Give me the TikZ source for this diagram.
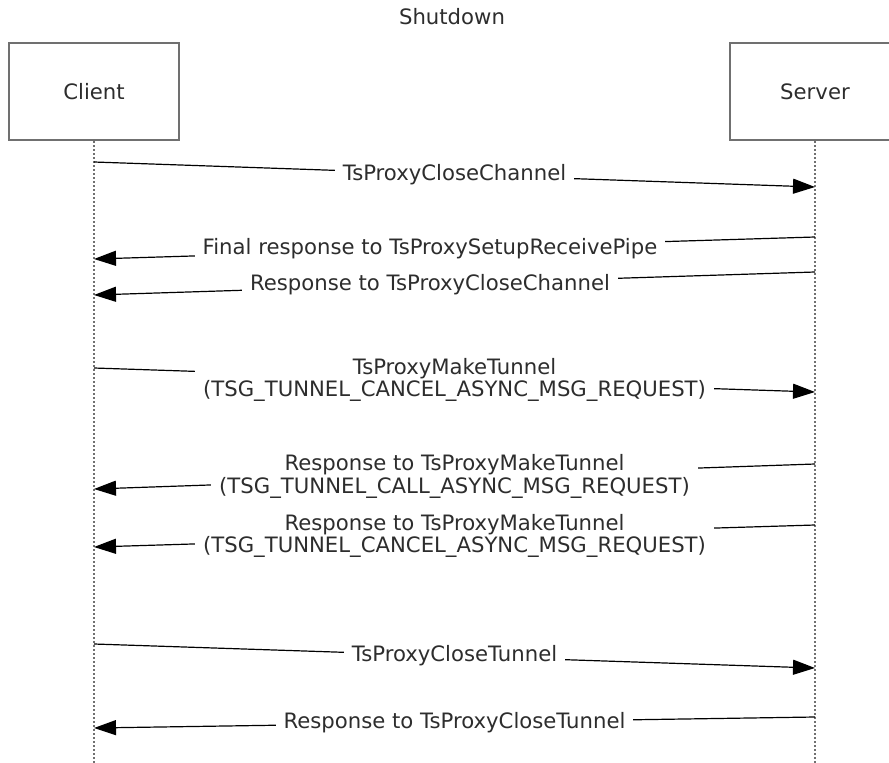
\documentclass[tikz,border=0pt]{standalone}
\usepackage{fontspec}
\setmainfont{DejaVu Sans}
\usetikzlibrary{arrows.meta}
\definecolor{boxgray}{RGB}{112,112,112}
\definecolor{textgray}{RGB}{45,45,45}

\begin{document}
\begin{tikzpicture}[x=1pt,y=-1pt,
  lifebox/.style={draw=boxgray,line width=2pt,minimum width=170pt,minimum height=97pt,inner sep=0pt,text=textgray},
  lifeline/.style={draw=boxgray,line width=2pt,dotted},
  msg/.style={line width=1.2pt,-{Triangle[length=22pt,width=15pt]}},
  lbl/.style={fill=white,inner xsep=8pt,inner ysep=1pt,align=center,text=textgray}]
\useasboundingbox (0,0) rectangle (889,763);
\fontsize{21.2}{22.5}\selectfont

\node[text=textgray] (title) at (452,17) {Shutdown};

\node[lifebox] (client) at (94,91.5) {Client};
\node[lifebox] (server) at (815,91.5) {Server};
\coordinate (clientend) at (94,763);
\coordinate (serverend) at (815,763);
\draw[lifeline] (client) -- (clientend);
\draw[lifeline] (server) -- (serverend);

\coordinate (c1) at (94,162);
\coordinate (s1) at (815,187);
\draw[msg] (c1) -- node[lbl] (m1) {TsProxyCloseChannel} (s1);

\coordinate (s2) at (815,237);
\coordinate (c2) at (94,259);
\draw[msg] (s2) -- node[lbl,pos=0.534] (m2) {Final response to TsProxySetupReceivePipe} (c2);

\coordinate (s3) at (815,272);
\coordinate (c3) at (94,295);
\draw[msg] (s3) -- node[lbl,pos=0.534] (m3) {Response to TsProxyCloseChannel} (c3);

\coordinate (c4) at (94,368);
\coordinate (s4) at (815,392);
\draw[msg] (c4) -- node[lbl] (m4) {TsProxyMakeTunnel\\(TSG\_TUNNEL\_CANCEL\_ASYNC\_MSG\_REQUEST)} (s4);

\coordinate (s5) at (815,464);
\coordinate (c5) at (94,489);
\draw[msg] (s5) -- node[lbl] (m5) {Response to TsProxyMakeTunnel\\(TSG\_TUNNEL\_CALL\_ASYNC\_MSG\_REQUEST)} (c5);

\coordinate (s6) at (815,525);
\coordinate (c6) at (94,547);
\draw[msg] (s6) -- node[lbl] (m6) {Response to TsProxyMakeTunnel\\(TSG\_TUNNEL\_CANCEL\_ASYNC\_MSG\_REQUEST)} (c6);

\coordinate (c7) at (94,644);
\coordinate (s7) at (815,668);
\draw[msg] (c7) -- node[lbl] (m7) {TsProxyCloseTunnel} (s7);

\coordinate (s8) at (815,717);
\coordinate (c8) at (94,728);
\draw[msg] (s8) -- node[lbl] (m8) {Response to TsProxyCloseTunnel} (c8);

\end{tikzpicture}
\end{document}
